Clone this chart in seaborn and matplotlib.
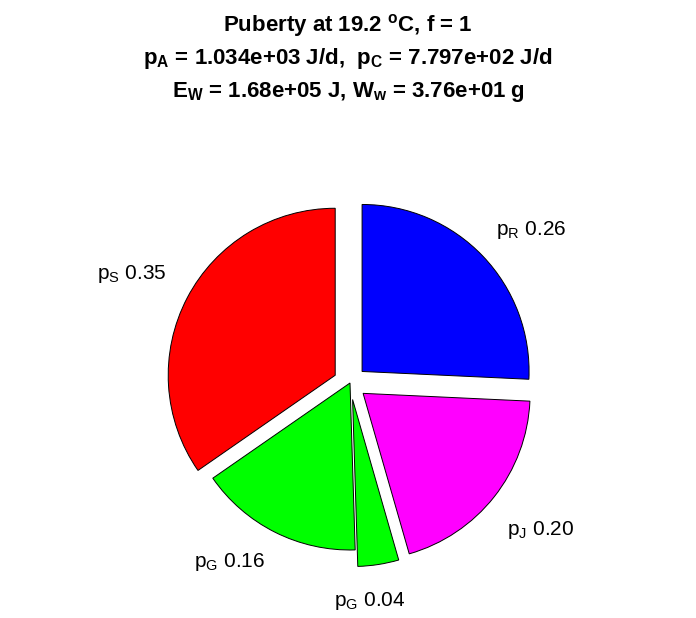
import matplotlib
matplotlib.use("Agg")
import matplotlib.pyplot as plt
import seaborn as sns

# ---- data ----
flux_names = ["p_R", "p_J", "p_G", "p_G", "p_S"]
flux_values = [0.26, 0.20, 0.04, 0.16, 0.35]
slice_colors = ["#0000ff", "#ff00ff", "#00ff00", "#00ff00", "#ff0000"]
explode = [0.1, 0.1, 0.1, 0.0, 0.1]
title_lines = [
    r"Puberty at 19.2 $^{\mathbf{o}}$C, f = 1",
    r"$\mathbf{p_A}$ = 1.034e+03 J/d,  $\mathbf{p_C}$ = 7.797e+02 J/d",
    r"$\mathbf{E_W}$ = 1.68e+05 J, $\mathbf{W_w}$ = 3.76e+01 g",
]
# label nudges in pixels (right, down) and horizontal alignment
label_nudge = [(-7, -7), (-9, 16), (-13, 8), (3, 4), (5, -11)]
label_ha = ["left", "left", "center", "right", "right"]

sns.set_theme(style="white")
plt.rcParams["font.family"] = ["Liberation Sans", "DejaVu Sans"]
plt.rcParams["text.color"] = "black"
plt.rcParams["mathtext.fontset"] = "custom"
plt.rcParams["mathtext.rm"] = "Liberation Sans"
plt.rcParams["mathtext.it"] = "Liberation Sans"
plt.rcParams["mathtext.bf"] = "Liberation Sans:bold"
plt.rcParams["mathtext.default"] = "regular"

W, H = 696, 618
fig = plt.figure(figsize=(W / 100, H / 100), dpi=100)
fig.patch.set_facecolor("white")

R = 167.0
cx, cy = 350.0, 383.0
X = 1.4
size = 2 * X * R
ax = fig.add_axes([(cx - size / 2) / W, (H - cy - size / 2) / H, size / W, size / H])

labels = [f"${n}$ {v:.2f}" for n, v in zip(flux_names, flux_values)]
wedges, texts = ax.pie(
    flux_values,
    labels=labels,
    colors=slice_colors,
    explode=explode,
    startangle=90,
    counterclock=False,
    labeldistance=1.17,
    wedgeprops=dict(edgecolor="black", linewidth=0.7),
    textprops=dict(fontsize=15, color="black"),
)
for t, (dx, dy), ha in zip(texts, label_nudge, label_ha):
    x, y = t.get_position()
    t.set_position((x + dx / R, y - dy / R))
    t.set_ha(ha)
ax.set_xlim(-X, X)
ax.set_ylim(-X, X)
ax.set_aspect("equal")
ax.axis("off")

for i, line in enumerate(title_lines):
    fig.text(0.5, 1 - (31 + 33 * i) / H, line, ha="center", va="baseline",
             fontsize=16, fontweight="bold", color="black")

fig.savefig("out.png", dpi=100, facecolor="white")
